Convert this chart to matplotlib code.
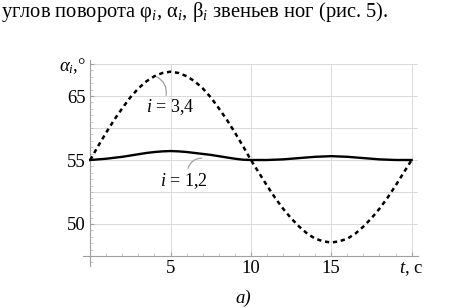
import numpy as np
import matplotlib.pyplot as plt

plt.rcParams['font.family'] = ['Liberation Serif', 'DejaVu Serif']
plt.rcParams['mathtext.fontset'] = 'custom'
plt.rcParams['mathtext.rm'] = 'Liberation Serif'
plt.rcParams['mathtext.it'] = 'Liberation Serif:italic'

# time, s (step 0.5)
t = np.arange(0, 20.5, 0.5)

# alpha for legs 3,4 (dotted)
alpha_34 = [55.0, 57.2, 59.3, 61.3, 63.1, 64.8, 66.2, 67.3, 68.1, 68.6, 68.8,
            68.6, 68.1, 67.3, 66.2, 64.8, 63.1, 61.3, 59.3, 57.2, 55.0,
            53.0, 51.0, 49.1, 47.4, 45.9, 44.6, 43.5, 42.7, 42.3, 42.1,
            42.3, 42.7, 43.5, 44.6, 45.9, 47.4, 49.1, 51.0, 53.0, 55.0]

# alpha for legs 1,2 (solid)
alpha_12 = [55.0, 55.1, 55.2, 55.35, 55.5, 55.7, 55.9, 56.1, 56.25, 56.35, 56.4,
            56.35, 56.25, 56.1, 55.95, 55.8, 55.6, 55.4, 55.2, 55.05, 55.0,
            55.0, 55.0, 55.05, 55.1, 55.2, 55.3, 55.4, 55.5, 55.55, 55.6,
            55.55, 55.5, 55.4, 55.3, 55.2, 55.1, 55.05, 55.0, 55.0, 55.0]

x_ticks = [5, 10, 15, 20]
x_labels = ['5', '10', '15', '$\\mathit{t}$, c']
y_ticks = [45, 55, 65, 70]
y_labels = ['50', '55', '65', '$\\mathit{\\alpha_i}$,°']

fig = plt.figure(figsize=(4.74, 3.08), dpi=100)
ax = fig.add_axes([0.175, 0.1377, 0.707, 0.6669])

ax.set_xlim(-0.45, 20.4)
ax.set_ylim(38.5, 70.6)

# grid
for x in x_ticks:
    ax.plot([x, x], [40, 70], color='#d9d9d9', lw=0.7, zorder=1)
for y in np.arange(45, 71, 5):
    ax.plot([0, 20.4], [y, y], color='#d9d9d9', lw=0.7, zorder=1)

ax.plot(t, alpha_34, color='black', lw=1.8, linestyle=(0, (1.7, 1.5)), zorder=3)
ax.plot(t, alpha_12, color='black', lw=1.7, zorder=3)

for s in ['top', 'right']:
    ax.spines[s].set_visible(False)
ax.spines['left'].set_position(('data', 0))
ax.spines['bottom'].set_position(('data', 40))
ax.spines['left'].set_bounds(38.5, 70.6)
ax.spines['bottom'].set_bounds(-0.45, 20.4)
for s in ['left', 'bottom']:
    ax.spines[s].set_color('#a0a0a0')
    ax.spines[s].set_linewidth(0.8)

ax.set_xticks(x_ticks)
ax.set_xticklabels(x_labels)
ax.set_yticks(y_ticks)
ax.set_yticklabels(y_labels)
ax.set_xticks(np.arange(1, 20, 1), minor=True)
ax.set_yticks(np.arange(39, 70.5, 1), minor=True)
ax.tick_params(which='major', direction='in', length=3, color='#a0a0a0',
               labelsize=13.5, pad=3)
ax.tick_params(which='minor', direction='in', length=2, color='#c0c0c0')
ax.tick_params(axis='x', which='major', pad=3)

# callout labels
ax.text(4.97, 63.3, '$\\mathit{i}$ = 3,4', fontsize=13, ha='center', va='center')
ax.annotate('', xy=(4.14, 68.0), xytext=(4.72, 65.1),
            arrowprops=dict(arrowstyle='-', color='#a0a0a0', lw=0.9,
                            connectionstyle='arc3,rad=0.35', shrinkA=0, shrinkB=0))
ax.text(5.81, 51.7, '$\\mathit{i}$ = 1,2', fontsize=13, ha='center', va='center')
ax.annotate('', xy=(6.94, 55.3), xytext=(6.09, 53.7),
            arrowprops=dict(arrowstyle='-', color='#a0a0a0', lw=0.9,
                            connectionstyle='arc3,rad=-0.35', shrinkA=0, shrinkB=0))

fig.text(0.002, 0.96, 'углов поворота φ$_{\\mathit{i}}$, α$_{\\mathit{i}}$, β$_{\\mathit{i}}$ звеньев ног (рис. 5).',
         fontsize=14.8, ha='left', va='center')
fig.text(0.513, 0.032, 'a)', fontsize=13.5, style='italic', ha='center', va='center')

fig.savefig('out.png', dpi=100)
